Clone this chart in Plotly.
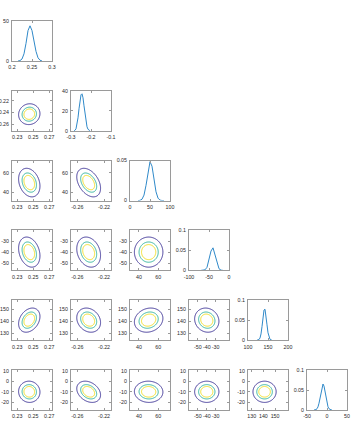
import numpy as np
import plotly.graph_objects as go

# ---------------- data ----------------
# 1-D marginal densities (diagonal panels)
h1_x = [0.215, 0.22, 0.225, 0.23, 0.235, 0.24, 0.245, 0.25, 0.255, 0.26, 0.265, 0.27, 0.275]
h1_y = [0, 0.5, 2.5, 9, 22, 38, 44, 38, 25, 12, 4, 1, 0]

h2_x = [-0.285, -0.28, -0.275, -0.27, -0.265, -0.26, -0.255, -0.25, -0.245, -0.24,
        -0.235, -0.23, -0.225, -0.22, -0.215, -0.21, -0.205]
h2_y = [0, 0.5, 2, 6, 13, 22, 31, 36, 37, 33, 25, 16, 9, 4, 1.5, 0.5, 0]

h3_x = [20, 25, 30, 35, 40, 45, 50, 55, 60, 65, 70, 75, 80, 85]
h3_y = [0, 0.0003, 0.0017, 0.0069, 0.019, 0.037, 0.0486, 0.043, 0.026, 0.011,
        0.0031, 0.0006, 0.0001, 0]

h4_x = [-70, -65, -60, -55, -50, -45, -40, -35, -30, -25, -20, -15]
h4_y = [0, 0.0002, 0.0014, 0.0077, 0.0249, 0.0484, 0.0564, 0.0395, 0.0166, 0.0042,
        0.0006, 0]

h5_x = [122.5, 125, 127.5, 130, 132.5, 135, 137.5, 140, 142.5, 145, 147.5, 150,
        152.5, 155, 157.5, 160]
h5_y = [0, 0.0003, 0.0016, 0.0056, 0.0156, 0.034, 0.0574, 0.0755, 0.0774, 0.0618,
        0.0385, 0.0186, 0.007, 0.0021, 0.0005, 0]

h6_x = [-32.5, -30, -27.5, -25, -22.5, -20, -17.5, -15, -12.5, -10, -7.5, -5, -2.5,
        0, 2.5, 5, 7.5, 10, 12.5]
h6_y = [0, 0.0003, 0.001, 0.0032, 0.0079, 0.017, 0.0305, 0.0465, 0.0598, 0.065,
        0.0598, 0.0465, 0.0305, 0.017, 0.0079, 0.0032, 0.001, 0.0003, 0]

hist_x = [h1_x, h2_x, h3_x, h4_x, h5_x, h6_x]
hist_y = [h1_y, h2_y, h3_y, h4_y, h5_y, h6_y]

# joint-density summaries (off-diagonal contour panels)
means = [0.245, -0.243, 50.0, -40.0, 141.0, -10.0]
sigmas = [0.0086, 0.0115, 9.5, 8.8, 6.4, 6.5]
corr = {
    (1, 0): 0.05,
    (2, 0): -0.25, (2, 1): -0.4,
    (3, 0): -0.25, (3, 1): -0.22, (3, 2): 0.0,
    (4, 0): 0.3, (4, 1): -0.2, (4, 2): 0.15, (4, 3): -0.1,
    (5, 0): -0.03, (5, 1): -0.3, (5, 2): -0.03, (5, 3): 0.0, (5, 4): 0.0,
}
contour_levels = [0.3, 0.58, 0.74]
contour_colors = ["#3b3196", "#2fb59e", "#f3e024"]

# diagonal axes
diag_xrange = [[0.2, 0.3], [-0.3, -0.1], [0, 100], [-100, 0], [100, 200], [-50, 50]]
diag_xticks = [[0.2, 0.25, 0.3], [-0.3, -0.2, -0.1], [0, 50, 100], [-100, -50, 0],
               [100, 150, 200], [-50, 0, 50]]
diag_xtext = [["0.2", "0.25", "0.3"], ["-0.3", "-0.2", "-0.1"], ["0", "50", "100"],
              ["-100", "-50", "0"], ["100", "150", "200"], ["-50", "0", "50"]]
diag_yrange = [[0, 50], [0, 40], [0, 0.05], [0, 0.1], [0, 0.1], [0, 0.1]]
diag_yticks = [[0, 50], [0, 20, 40], [0, 0.05], [0, 0.05, 0.1], [0, 0.05, 0.1],
               [0, 0.05, 0.1]]
diag_ytext = [["0", "50"], ["0", "20", "40"], ["0", "0.05"], ["0", "0.05", "0.1"],
              ["0", "0.05", "0.1"], ["0", "0.05", "0.1"]]

# contour axes: column (x) ranges and row (y) ranges per parameter
col_range = [[0.2234, 0.2734], [-0.2695, -0.2095], [30.7, 72.1], [-60, -15],
             [126.8, 161.1], None]
col_ticks = [[0.23, 0.25, 0.27], [-0.26, -0.22], [40, 60], [-50, -40, -30],
             [130, 140, 150], None]
col_text = [["0.23", "0.25", "0.27"], ["-0.26", "-0.22"], ["40", "60"],
            ["-50", "-40", "-30"], ["130", "140", "150"], None]
row_range = [None, [-0.2715, -0.2029], [31.4, 72.7], [-56.6, -20.3], [124.5, 157.4],
             [-27.3, 10.7]]
row_ticks = [None, [-0.26, -0.24, -0.22], [40, 60], [-50, -40, -30], [130, 140, 150],
             [-20, -10, 0, 10]]
row_text = [None, ["-0.26", "-0.24", "-0.22"], ["40", "60"], ["-50", "-40", "-30"],
            ["130", "140", "150"], ["-20", "-10", "0", "10"]]

# ---------------- layout geometry ----------------
W, H = 355, 427
PANEL = 40
col_left = [12, 71, 130, 189, 248, 307]
row_top = [21, 90.8, 160.6, 230.4, 300.2, 370]

AX_COLOR = "#9a9a9a"
TXT_COLOR = "#2a2a2a"
FONT = "Liberation Sans"
FS = 5.3
LINE_BLUE = "#2f89c9"

fig = go.Figure()
layout = {}


def axis_style(domain, rng, ticks, text, anchor):
    return dict(
        domain=domain, range=rng, tickmode="array", tickvals=ticks, ticktext=text,
        showline=True, linecolor=AX_COLOR, linewidth=1, mirror="ticks",
        ticks="inside", ticklen=2, tickcolor=AX_COLOR, tickwidth=1,
        showgrid=False, zeroline=False, anchor=anchor, automargin=False,
        tickangle=0,
        tickfont=dict(family=FONT, size=FS, color=TXT_COLOR),
        ticklabelstandoff=1,
    )


n = 0
for i in range(6):
    for j in range(i + 1):
        n += 1
        xa = "x" if n == 1 else f"x{n}"
        ya = "y" if n == 1 else f"y{n}"
        xdom = [col_left[j] / W, (col_left[j] + PANEL) / W]
        ydom = [1 - (row_top[i] + PANEL) / H, 1 - row_top[i] / H]
        if i == j:
            fig.add_trace(go.Scatter(
                x=hist_x[i], y=hist_y[i], mode="lines",
                line=dict(color=LINE_BLUE, width=1),
                xaxis=xa, yaxis=ya, hoverinfo="skip", showlegend=False))
            xr, xt, xtt = diag_xrange[i], diag_xticks[i], diag_xtext[i]
            yr, yt, ytt = diag_yrange[i], diag_yticks[i], diag_ytext[i]
        else:
            xr, xt, xtt = col_range[j], col_ticks[j], col_text[j]
            yr, yt, ytt = row_range[i], row_ticks[i], row_text[i]
            gx = np.linspace(xr[0], xr[1], 90)
            gy = np.linspace(yr[0], yr[1], 90)
            GX, GY = np.meshgrid(gx, gy)
            u = (GX - means[j]) / sigmas[j]
            v = (GY - means[i]) / sigmas[i]
            r = corr[(i, j)]
            q = (u ** 2 - 2 * r * u * v + v ** 2) / (1 - r ** 2)
            z = np.exp(-q / 2)
            for lev, col in zip(contour_levels, contour_colors):
                fig.add_trace(go.Contour(
                    x=gx, y=gy, z=z, xaxis=xa, yaxis=ya,
                    autocontour=False,
                    contours=dict(coloring="lines", start=lev, end=lev, size=1),
                    line=dict(width=1, smoothing=1, color=col),
                    colorscale=[[0, col], [1, col]], showscale=False,
                    hoverinfo="skip"))
        xkey = "xaxis" if n == 1 else f"xaxis{n}"
        ykey = "yaxis" if n == 1 else f"yaxis{n}"
        layout[xkey] = axis_style(xdom, xr, xt, xtt, ya)
        layout[ykey] = axis_style(ydom, yr, yt, ytt, xa)

fig.update_layout(
    width=W, height=H, margin=dict(l=0, r=0, t=0, b=0),
    paper_bgcolor="white", plot_bgcolor="white", showlegend=False,
    font=dict(family=FONT, size=FS, color=TXT_COLOR),
    **layout,
)
fig.write_html("out.html")
